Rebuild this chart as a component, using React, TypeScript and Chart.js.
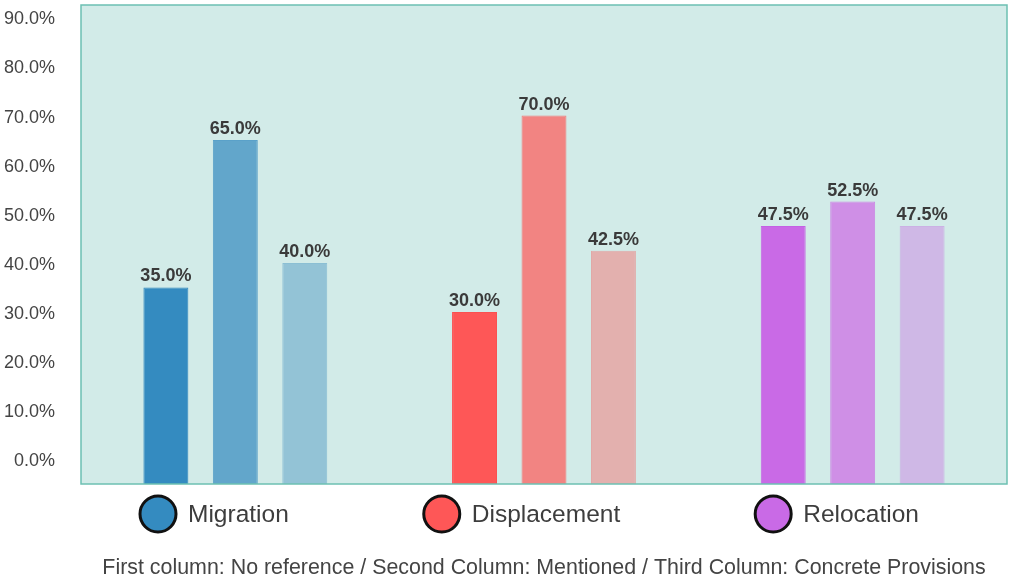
import React, { useEffect, useRef } from 'react';
import Chart from 'chart.js/auto';

// categories along the x axis and the three columns in each group
const categories = ['Migration', 'Displacement', 'Relocation'];
const columns = ['No reference', 'Mentioned', 'Concrete Provisions'];

// percentages, one value per category
const noReference = [35.0, 30.0, 47.5];
const mentioned = [65.0, 70.0, 52.5];
const concreteProvisions = [40.0, 42.5, 47.5];

const yTicks = [0, 10, 20, 30, 40, 50, 60, 70, 80, 90];
const Y_MIN = -5;
const Y_MAX = 92.5;

const footnote =
  'First column: No reference / Second Column: Mentioned / Third Column: Concrete Provisions';

// per category: dark, mid, light shade
const shades = [
  ['#348bc0', '#62a6cb', '#93c3d6'],
  ['#fe5757', '#f28482', '#e3b0ae'],
  ['#c96ae6', '#cf8fe6', '#cfb8e6'],
];
const edges = [
  ['#2f86bd', '#5aa1c9', '#8bbfd4'],
  ['#fb5050', '#f07c7a', '#e1a9a7'],
  ['#c461e4', '#cb87e4', '#cbb1e4'],
];

const FONT = '"Liberation Sans", Arial, sans-serif';

const plotFrame = {
  id: 'plotFrame',
  beforeDatasetsDraw(chart: any) {
    const { ctx, chartArea: a } = chart;
    ctx.save();
    ctx.fillStyle = '#d2ebe8';
    ctx.fillRect(a.left, a.top, a.right - a.left, a.bottom - a.top);
    ctx.restore();
  },
  afterDatasetsDraw(chart: any) {
    const { ctx, chartArea: a } = chart;
    ctx.save();
    ctx.strokeStyle = '#6cc0b2';
    ctx.lineWidth = 1.5;
    ctx.strokeRect(a.left, a.top, a.right - a.left, a.bottom - a.top);
    ctx.restore();
  },
};

const barLabels = {
  id: 'barLabels',
  afterDatasetsDraw(chart: any) {
    const { ctx } = chart;
    ctx.save();
    ctx.font = `bold 18px ${FONT}`;
    ctx.fillStyle = '#3a3a3a';
    ctx.textAlign = 'center';
    ctx.textBaseline = 'alphabetic';
    chart.data.datasets.forEach((ds: any, i: number) => {
      chart.getDatasetMeta(i).data.forEach((bar: any, j: number) => {
        ctx.fillText(`${ds.data[j].toFixed(1)}%`, bar.x, bar.y - 6);
      });
    });
    ctx.restore();
  },
};

const bottomLegend = {
  id: 'bottomLegend',
  afterDraw(chart: any) {
    const { ctx, chartArea: a } = chart;
    const r = 19;
    const textGap = 11;
    const itemGap = 134;
    const cy = a.bottom + 30;
    ctx.save();
    ctx.font = `24.5px ${FONT}`;
    ctx.textBaseline = 'middle';
    ctx.textAlign = 'left';
    let x = a.left + 58;
    categories.forEach((name, c) => {
      ctx.beginPath();
      ctx.arc(x + r, cy, r - 1, 0, Math.PI * 2);
      ctx.fillStyle = shades[c][0];
      ctx.fill();
      ctx.lineWidth = 3;
      ctx.strokeStyle = '#111';
      ctx.stroke();
      ctx.fillStyle = '#3d3d3d';
      const tx = x + 2 * r + textGap;
      ctx.fillText(name, tx, cy + 1);
      x = tx + ctx.measureText(name).width + itemGap;
    });

    ctx.font = `21.4px ${FONT}`;
    ctx.textAlign = 'center';
    ctx.fillStyle = '#444';
    ctx.fillText(footnote, (a.left + a.right) / 2, a.bottom + 84);
    ctx.restore();
  },
};

const App: React.FC = () => {
  const canvasRef = useRef<HTMLCanvasElement>(null);
  const chartRef = useRef<Chart | null>(null);

  useEffect(() => {
    document.body.style.margin = '0';
    if (!canvasRef.current) return;
    if (chartRef.current) chartRef.current.destroy();

    const series = [noReference, mentioned, concreteProvisions];

    chartRef.current = new Chart(canvasRef.current, {
      type: 'bar',
      data: {
        labels: categories,
        datasets: series.map((values, i) => ({
          label: columns[i],
          data: values,
          backgroundColor: categories.map((_, c) => shades[c][i]),
          borderColor: categories.map((_, c) => edges[c][i]),
          borderWidth: 1,
          base: Y_MIN,
          categoryPercentage: 0.675,
          barPercentage: 0.647,
        })),
      },
      options: {
        responsive: true,
        maintainAspectRatio: false,
        animation: false,
        layout: { padding: { top: 5, right: 6, bottom: 97, left: 0 } },
        plugins: {
          legend: { display: false },
          tooltip: { enabled: false },
        },
        scales: {
          x: { display: false },
          y: {
            min: Y_MIN,
            max: Y_MAX,
            afterBuildTicks: (scale: any) => {
              scale.ticks = yTicks.map((v) => ({ value: v }));
            },
            afterFit: (scale: any) => {
              scale.width = 81;
              scale.paddingTop = 0;
              scale.paddingBottom = 0;
            },
            grid: { display: false, drawTicks: false },
            border: { display: false },
            ticks: {
              padding: 26,
              labelOffset: 2,
              color: '#444',
              font: { family: FONT, size: 18 },
              callback: (v: any) => `${Number(v).toFixed(1)}%`,
            },
          },
        },
      },
      plugins: [plotFrame, barLabels, bottomLegend],
    });

    return () => {
      if (chartRef.current) {
        chartRef.current.destroy();
        chartRef.current = null;
      }
    };
  }, []);

  return (
    <div style={{ position: 'relative', width: 1013, height: 581 }}>
      <canvas ref={canvasRef} />
    </div>
  );
};

export default App;
